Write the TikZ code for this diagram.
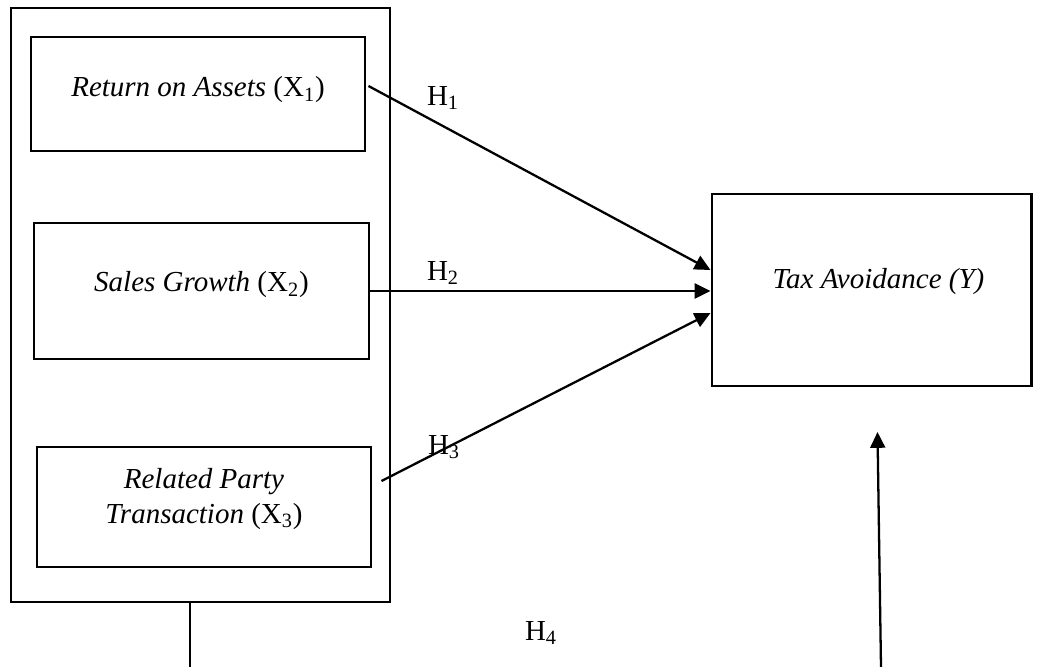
\documentclass[tikz,border=0pt]{standalone}
\usepackage{fontspec}
\setmainfont{Liberation Serif}
\usepackage{tikz}
\usetikzlibrary{arrows.meta, positioning, calc}

\begin{document}
\begin{tikzpicture}[
    varbox/.style={draw, line width=1.7pt, inner sep=0pt},
    vartext/.style={align=center},
    path/.style={line width=1.3pt, -{Triangle[length=9pt, width=8.5pt]}},
    every node/.style={font=\fontsize{16.5}{19.8}\selectfont}
  ]
  \useasboundingbox (0,0) rectangle (20.86,-13.34);

  % independent variables
  \node[varbox, minimum width=7.58cm, minimum height=11.88cm] (frame) at (4.01,-6.10) {};
  \node[varbox, minimum width=6.68cm, minimum height=2.28cm] (roa) at (3.96,-1.88) {};
  \node[varbox, minimum width=6.70cm, minimum height=2.72cm] (sg) at (4.03,-5.82) {};
  \node[varbox, minimum width=6.68cm, minimum height=2.40cm] (rpt) at (4.08,-10.14) {};
  \node[vartext] (roatext) at ([yshift=0.09cm]roa.center) {\textit{Return on Assets} (X\textsubscript{1})};
  \node[vartext] (sgtext) at ([yshift=0.12cm]sg.center) {\textit{Sales Growth} (X\textsubscript{2})};
  \node[vartext] (rpttext) at ([yshift=0.16cm]rpt.center) {\textit{Related Party}\\\textit{Transaction} (X\textsubscript{3})};

  % dependent variable
  \node[varbox, minimum width=6.38cm, minimum height=3.84cm] (ta) at (17.43,-5.80) {};
  \node[vartext] (tatext) at ([shift={(0.14,0.16)}]ta.center) {\textit{Tax Avoidance (Y)}};

  % hypotheses
  \draw[path] ([shift={(0.04,0.16)}]roa.east) -- ([yshift=0.4cm]ta.west);
  \draw[path] (sg.east) -- (sg.east -| ta.west);
  \draw[path] ([shift={(0.18,0.52)}]rpt.east) -- ([yshift=-0.46cm]ta.west);

  \node (h1) at (8.86,-1.96) {H\textsubscript{1}};
  \node (h2) at (8.86,-5.46) {H\textsubscript{2}};
  \node (h3) at (8.88,-8.94) {H\textsubscript{3}};
  \node (h4) at (10.82,-12.66) {H\textsubscript{4}};

  % simultaneous effect
  \coordinate (low) at ($(frame.south)+(-0.21,0)$);
  \coordinate (lowend) at (low |- 0,-13.34);
  \draw[line width=0.7pt] (low) -- (lowend);
  \coordinate (up) at (17.62,-13.34);
  \coordinate (uptip) at (17.55,-8.64);
  \draw[path] (up) -- (uptip);
\end{tikzpicture}
\end{document}
